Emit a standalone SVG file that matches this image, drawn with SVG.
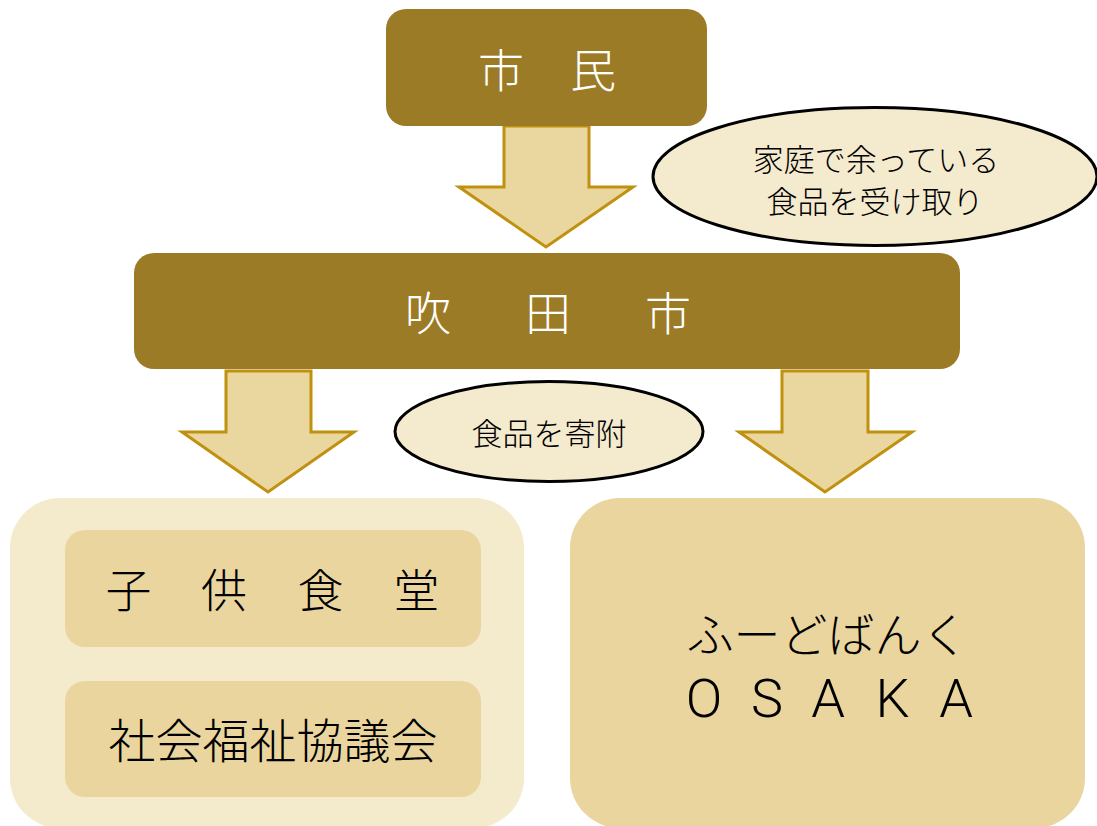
<svg xmlns="http://www.w3.org/2000/svg" width="1097" height="826" viewBox="0 0 1097 826">
<style>
.hdr{fill:#9C7B27}
.arrow{fill:#EAD69F;stroke:#C0900F;stroke-width:3;stroke-linejoin:miter}
.bubble{fill:#F4EACD;stroke:#000;stroke-width:3}
.jp{font-family:"Noto Sans CJK JP","Noto Sans",sans-serif;font-weight:300}
.wt{fill:#fff}
.bk{fill:#000}
</style>
<rect width="1097" height="826" fill="#fff"/>
<g id="connectors">
<polygon class="arrow" points="504,126 589,126 589,187 633,187 546,247 459,187 504,187"/>
<polygon class="arrow" points="226,371 311,371 311,432 354,432 268,492 182,432 226,432"/>
<polygon class="arrow" points="782,371 868,371 868,432 912,432 825,492 739,432 782,432"/>
</g>
<g id="node-shimin">
<rect class="hdr" x="386" y="9" width="321" height="117" rx="20"/>
<text class="jp wt" x="547" y="86.5" font-size="46" text-anchor="middle">市　民</text>
</g>
<g id="node-label-receive">
<ellipse class="bubble" cx="875" cy="176.5" rx="222" ry="69"/>
<text class="jp bk" x="876" y="171" font-size="31" text-anchor="middle">家庭で余っている</text>
<text class="jp bk" x="875" y="213" font-size="31" text-anchor="middle">食品を受け取り</text>
</g>
<g id="node-suita">
<rect class="hdr" x="134" y="253" width="826" height="116" rx="20"/>
<text class="jp wt" x="428 548 668" y="329.5" font-size="46" text-anchor="middle">吹田市</text>
</g>
<g id="node-label-donate">
<ellipse class="bubble" cx="549" cy="431.5" rx="154" ry="50"/>
<text class="jp bk" x="549" y="445" font-size="31" text-anchor="middle">食品を寄附</text>
</g>
<g id="node-left-group">
<rect x="10" y="498" width="514" height="330" rx="50" fill="#F4EACC"/>
</g>
<g id="node-kodomo">
<rect x="65" y="530" width="416" height="117" rx="20" fill="#EAD59E"/>
<text class="jp bk" x="128.5 224 320.5 416.5" y="606.5" font-size="46" text-anchor="middle">子供食堂</text>
</g>
<g id="node-shakyo">
<rect x="65" y="681" width="416" height="116" rx="20" fill="#EAD59E"/>
<text class="jp bk" x="273" y="758" font-size="47" text-anchor="middle">社会福祉協議会</text>
</g>
<g id="node-foodbank">
<rect x="570" y="498" width="515" height="330" rx="50" fill="#EAD59E"/>
<text class="jp bk" x="827.5" y="652" font-size="47" text-anchor="middle">ふーどばんく</text>
<text class="bk" font-family="Roboto, 'Liberation Sans', sans-serif" font-weight="300" x="704 767 828 892.5 956" y="717" font-size="54" text-anchor="middle">OSAKA</text>
</g>
</svg>
